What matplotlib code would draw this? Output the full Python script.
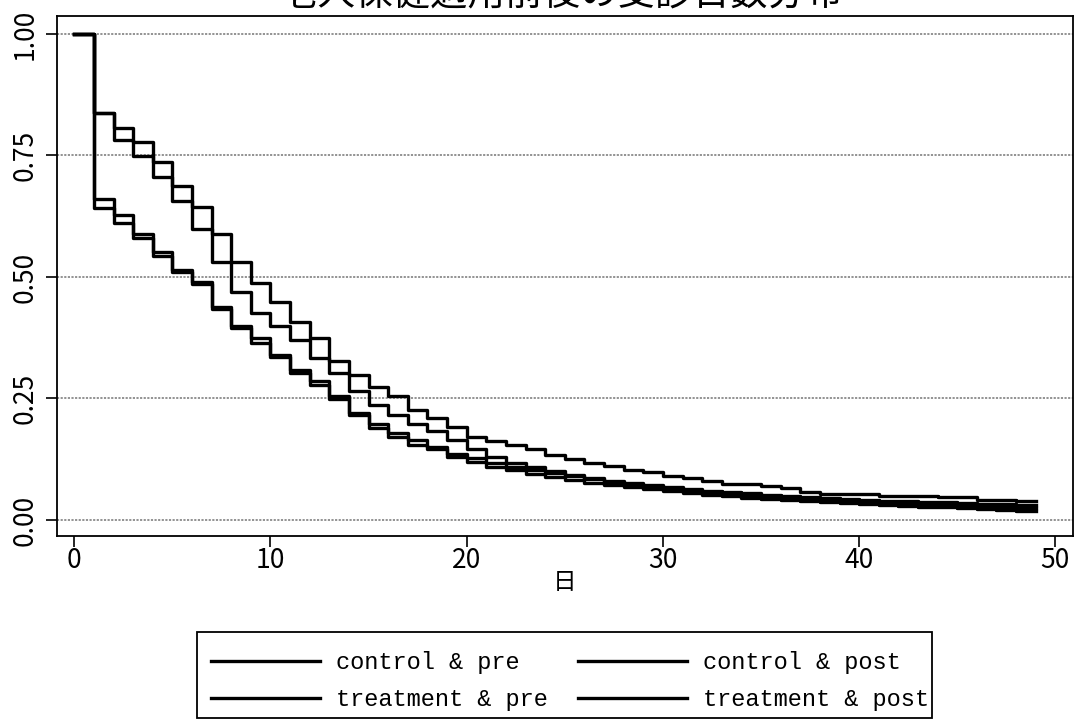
import matplotlib
matplotlib.use("Agg")
import matplotlib.pyplot as plt
from matplotlib.lines import Line2D
from matplotlib.patches import Rectangle

# ---- data ----
days = list(range(0, 50))  # step start times; last value extends to day 49

series_labels = ["control & pre", "treatment & pre", "control & post", "treatment & post"]

curve_a = [1.000, 0.837, 0.806, 0.778, 0.737, 0.687, 0.643, 0.588, 0.530, 0.487,
           0.448, 0.408, 0.374, 0.327, 0.298, 0.274, 0.256, 0.226, 0.209, 0.191,
           0.171, 0.163, 0.155, 0.147, 0.134, 0.126, 0.117, 0.111, 0.103, 0.099,
           0.091, 0.086, 0.081, 0.075, 0.075, 0.070, 0.065, 0.058, 0.053, 0.053,
           0.053, 0.049, 0.049, 0.049, 0.047, 0.047, 0.041, 0.041, 0.038, 0.038]

curve_b = [1.000, 0.837, 0.782, 0.748, 0.706, 0.657, 0.599, 0.531, 0.469, 0.426,
           0.399, 0.370, 0.333, 0.302, 0.266, 0.237, 0.217, 0.198, 0.183, 0.165,
           0.145, 0.130, 0.118, 0.108, 0.100, 0.093, 0.087, 0.081, 0.076, 0.071,
           0.067, 0.063, 0.060, 0.057, 0.055, 0.052, 0.050, 0.048, 0.046, 0.044,
           0.042, 0.040, 0.039, 0.037, 0.036, 0.034, 0.033, 0.032, 0.031, 0.031]

curve_c = [1.000, 0.660, 0.628, 0.588, 0.552, 0.514, 0.490, 0.439, 0.400, 0.374,
           0.340, 0.309, 0.285, 0.256, 0.220, 0.197, 0.178, 0.165, 0.151, 0.136,
           0.127, 0.118, 0.110, 0.102, 0.096, 0.090, 0.084, 0.079, 0.074, 0.069,
           0.065, 0.061, 0.058, 0.055, 0.052, 0.049, 0.047, 0.045, 0.043, 0.041,
           0.039, 0.037, 0.035, 0.033, 0.031, 0.030, 0.028, 0.026, 0.025, 0.025]

curve_d = [1.000, 0.641, 0.612, 0.581, 0.544, 0.511, 0.485, 0.434, 0.395, 0.365,
           0.335, 0.302, 0.277, 0.248, 0.215, 0.190, 0.170, 0.155, 0.145, 0.129,
           0.120, 0.110, 0.102, 0.095, 0.088, 0.082, 0.077, 0.072, 0.067, 0.063,
           0.059, 0.055, 0.052, 0.049, 0.046, 0.044, 0.041, 0.039, 0.037, 0.035,
           0.033, 0.031, 0.029, 0.027, 0.026, 0.024, 0.022, 0.021, 0.019, 0.019]

x_ticks = [0, 10, 20, 30, 40, 50]
y_ticks = [0.00, 0.25, 0.50, 0.75, 1.00]
y_ticklabels = ["0.00", "0.25", "0.50", "0.75", "1.00"]
title = "老人保健適用前後の受診日数分布"
x_label = "日"

# ---- figure ----
plt.rcParams['font.family'] = ['Noto Sans CJK JP', 'DejaVu Sans']
W, H = 1077, 727
fig = plt.figure(figsize=(W / 100, H / 100), dpi=100)
ax = fig.add_axes([57 / W, 1 - 536 / H, (1073 - 57) / W, (536 - 16) / H])

for yv in y_ticks:
    ax.axhline(yv, color='#8a8a8a', lw=1.3, ls=(0, (1.2, 0.8)), zorder=1)

lw = 2.4
curves = [curve_a, curve_c, curve_b, curve_d]
for c in curves:
    ax.step(days, c, where='post', color='black', lw=lw, zorder=3)

ax.set_xlim(-0.88, 50.9)
ax.set_ylim(-0.033, 1.037)
ax.set_xticks(x_ticks)
ax.set_xticklabels([str(v) for v in x_ticks], fontsize=19)
ax.set_yticks(y_ticks)
ax.set_yticklabels(y_ticklabels, fontsize=19, rotation=90, va='center')
ax.tick_params(axis='both', direction='out', length=8, width=1.2, color='black')
ax.tick_params(axis='y', pad=5)
ax.tick_params(axis='x', pad=0)
for sp in ax.spines.values():
    sp.set_linewidth(1.3)
    sp.set_color('black')

ax.set_xlabel(x_label, fontsize=17, labelpad=-2)

fig.text(0.522, 1.007, title, ha='center', va='center', fontsize=27)

handles = [Line2D([], [], color='black', lw=lw) for _ in series_labels]
leg = fig.legend(handles, series_labels, ncol=2, loc='center',
                 bbox_to_anchor=(570 / W, 1 - 681 / H),
                 frameon=False,
                 prop={'family': 'Liberation Mono', 'size': 17},
                 handlelength=4.6, handletextpad=0.7, columnspacing=1.27,
                 borderpad=0.3, labelspacing=0.6)
fig.patches.append(Rectangle((197 / W, 1 - 718 / H), 735 / W, 86 / H,
                             transform=fig.transFigure, fill=False,
                             edgecolor='black', lw=1.3))

fig.savefig("out.png", dpi=100, facecolor='white')
